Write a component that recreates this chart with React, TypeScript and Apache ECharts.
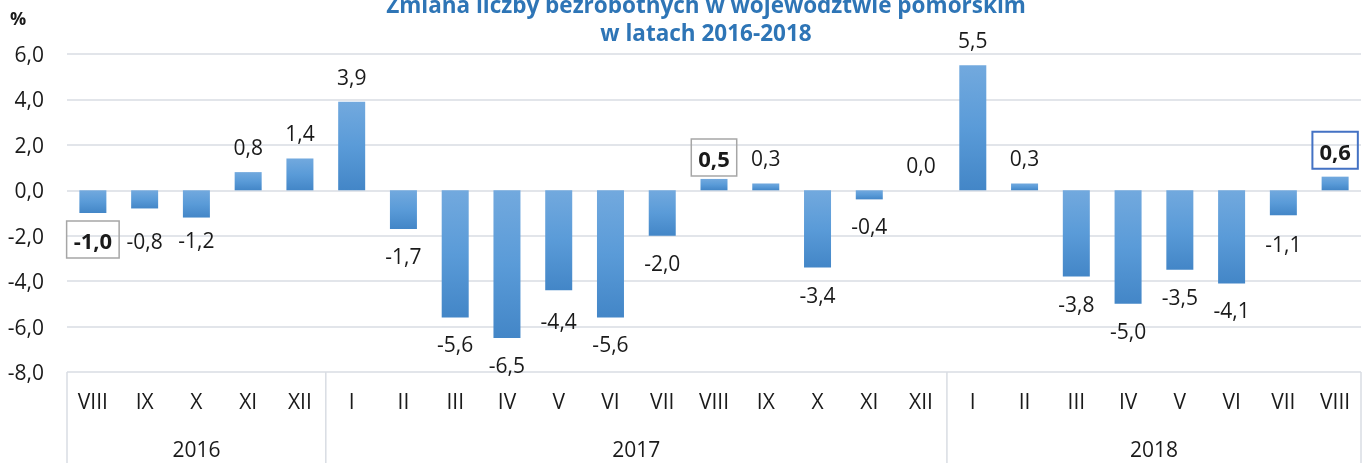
import React, { useEffect, useRef } from 'react';
import * as echarts from 'echarts';

const months = ['VIII', 'IX', 'X', 'XI', 'XII', 'I', 'II', 'III', 'IV', 'V', 'VI', 'VII', 'VIII', 'IX', 'X', 'XI', 'XII', 'I', 'II', 'III', 'IV', 'V', 'VI', 'VII', 'VIII'];
const values = [-1.0, -0.8, -1.2, 0.8, 1.4, 3.9, -1.7, -5.6, -6.5, -4.4, -5.6, -2.0, 0.5, 0.3, -3.4, -0.4, 0.0, 5.5, 0.3, -3.8, -5.0, -3.5, -4.1, -1.1, 0.6];
const years = ['2016', '2017', '2018'];
const yearStart = [0, 5, 17];
const yearEnd = [5, 17, 25];
const titleLines = ['Zmiana liczby bezrobotnych w województwie pomorskim', 'w latach 2016-2018'];

const FONT = '"Open Sans", sans-serif';
const fmt = (v: number) => v.toFixed(1).replace('.', ',');

export default function App() {
  const ref = useRef<HTMLDivElement>(null);
  useEffect(() => {
    if (!ref.current) return;
    const chart = echarts.init(ref.current, null, { renderer: 'svg' });

    const nudge: Record<number, number> = { 1: 6, 2: -5, 9: 4, 23: 2 };
    const boxed: Record<number, any> = {
      0: { borderColor: '#A6A6A6', borderWidth: 1.5, distance: 8 },
      12: { borderColor: '#A6A6A6', borderWidth: 1.5, distance: 3 },
      24: { borderColor: '#4472C4', borderWidth: 2, distance: 8 },
    };

    const barData = values.map((v, i) => {
      const neg = v < 0;
      const label: any = {
        show: true,
        position: neg ? 'bottom' : 'top',
        distance: neg ? 15 : 13,
        formatter: fmt(v),
        fontFamily: FONT,
        fontSize: 21,
        lineHeight: 24,
        color: '#1a1a1a',
        offset: [0, nudge[i] || 0],
      };
      if (boxed[i]) {
        Object.assign(label, {
          fontWeight: 'bold',
          fontSize: 22,
          lineHeight: 24,
          padding: [7, 7, 6, 7],
          borderColor: boxed[i].borderColor,
          borderWidth: boxed[i].borderWidth,
          distance: boxed[i].distance,
          offset: [0, 0],
        });
      }
      return { value: v, label };
    });

    const gridColor = '#D9DDE3';

    chart.setOption({
      animation: false,
      grid: { left: 67, right: 7, top: 54, bottom: 91, containLabel: false },
      graphic: [
        {
          type: 'text',
          x: 706,
          y: 4,
          style: { text: titleLines[0], fill: '#2E75B6', font: `bold 22.5px ${FONT}`, align: 'center', verticalAlign: 'middle' },
        },
        {
          type: 'text',
          x: 706,
          y: 32,
          style: { text: titleLines[1], fill: '#2E75B6', font: `bold 22.5px ${FONT}`, align: 'center', verticalAlign: 'middle' },
        },
        {
          type: 'text',
          x: 18,
          y: 18,
          style: { text: '%', fill: '#1a1a1a', font: `bold 18px ${FONT}`, align: 'center', verticalAlign: 'middle' },
        },
      ],
      xAxis: [
        {
          type: 'category',
          data: months,
          axisLine: { show: false },
          axisTick: { show: false },
          axisLabel: { interval: 0, margin: 18, fontFamily: FONT, fontSize: 21, color: '#1a1a1a' },
        },
        { type: 'value', min: 0, max: 25, show: false },
      ],
      yAxis: {
        type: 'value',
        min: -8,
        max: 6,
        interval: 2,
        axisLine: { show: false },
        axisTick: { show: false },
        axisLabel: { formatter: (v: number) => fmt(v), margin: 23, fontFamily: FONT, fontSize: 21, color: '#1a1a1a' },
        splitLine: { lineStyle: { color: gridColor, width: 1.5 } },
      },
      series: [
        {
          type: 'bar',
          data: barData,
          barWidth: 27,
          itemStyle: {
            color: new echarts.graphic.LinearGradient(0, 0, 0, 1, [
              { offset: 0, color: '#72A9DE' },
              { offset: 0.5, color: '#5A9BD8' },
              { offset: 1, color: '#4386C7' },
            ]),
          },
        },
        {
          type: 'custom',
          xAxisIndex: 1,
          yAxisIndex: 0,
          clip: false,
          silent: true,
          data: yearStart.map((s, i) => [s, yearEnd[i]]),
          renderItem: (params: any, api: any) => {
            const s = api.value(0);
            const e = api.value(1);
            const p0 = api.coord([s, -8]);
            const p1 = api.coord([e, -8]);
            const lineStyle = { stroke: gridColor, lineWidth: 1.5 };
            const children: any[] = [
              { type: 'line', shape: { x1: p0[0], y1: p0[1], x2: p0[0], y2: p0[1] + 100 }, style: lineStyle },
              {
                type: 'text',
                x: (p0[0] + p1[0]) / 2,
                y: p0[1] + 77,
                style: { text: years[params.dataIndex], fill: '#1a1a1a', font: `21px ${FONT}`, align: 'center', verticalAlign: 'middle' },
              },
            ];
            if (params.dataIndex === years.length - 1) {
              children.push({ type: 'line', shape: { x1: p1[0], y1: p1[1], x2: p1[0], y2: p1[1] + 100 }, style: lineStyle });
            }
            return { type: 'group', children };
          },
        },
      ],
    });
    return () => chart.dispose();
  }, []);
  return <div ref={ref} style={{ position: 'fixed', left: 0, top: 0, width: 1368, height: 463 }} />;
}
